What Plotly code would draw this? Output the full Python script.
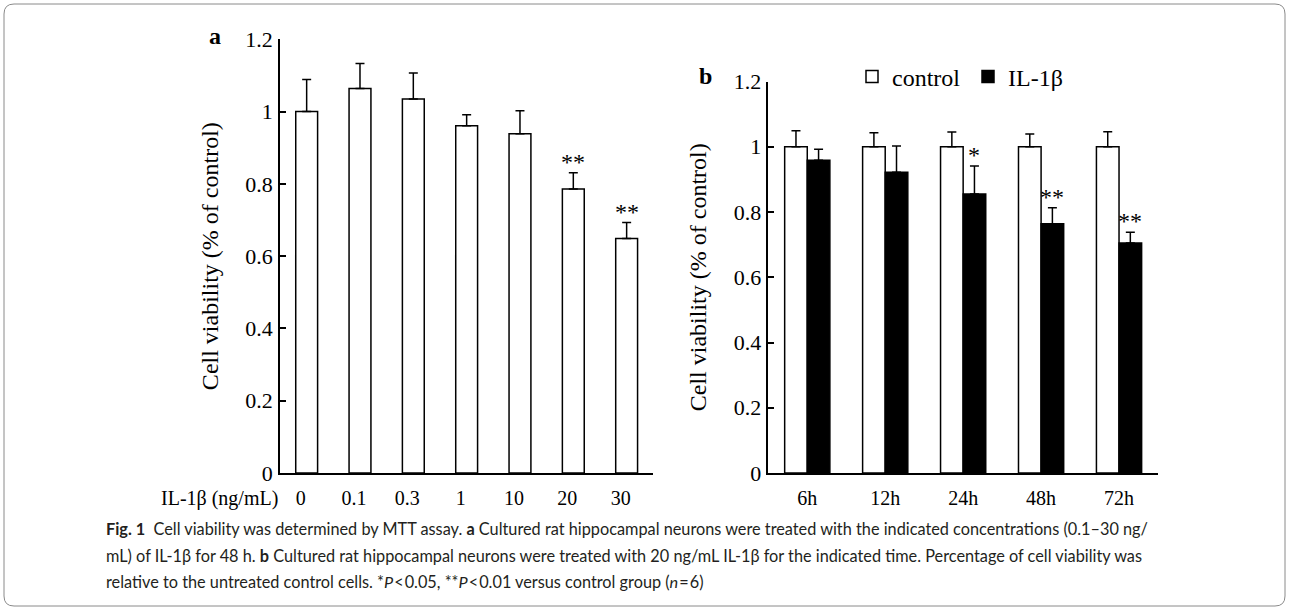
import plotly.graph_objects as go

# ---------------- data ----------------
conc_labels = ["0", "0.1", "0.3", "1", "10", "20", "30"]
conc_values = [1.000, 1.064, 1.035, 0.961, 0.939, 0.786, 0.649]
conc_err = [0.089, 0.069, 0.072, 0.030, 0.063, 0.045, 0.044]
conc_sig = ["", "", "", "", "", "**", "**"]

time_labels = ["6h", "12h", "24h", "48h", "72h"]
ctrl_values = [1.0, 1.0, 1.0, 1.0, 1.0]
ctrl_err = [0.049, 0.043, 0.045, 0.039, 0.046]
il_values = [0.959, 0.922, 0.855, 0.764, 0.705]
il_err = [0.033, 0.080, 0.086, 0.049, 0.033]
il_sig = ["", "", "*", "**", "**"]

y_tickvals = [0, 0.2, 0.4, 0.6, 0.8, 1.0, 1.2]
y_ticktext = ["0", "0.2", "0.4", "0.6", "0.8", "1", "1.2"]

W, H = 1290, 613
SERIF = "Liberation Serif, Times New Roman, serif"
SANS = "Lato, Open Sans, sans-serif"


def px(x):
    return x / W


def py(y):
    return 1 - y / H


fig = go.Figure()

bw_a = 0.41
fig.add_trace(go.Bar(
    x=conc_labels, y=conc_values, width=bw_a,
    marker=dict(color="white", line=dict(color="black", width=1.5)),
    error_y=dict(type="data", array=conc_err, arrayminus=[0] * len(conc_err),
                 symmetric=False, color="black", thickness=1.5, width=4.5),
    showlegend=False, xaxis="x", yaxis="y",
))

bw_b = 0.29
fig.add_trace(go.Bar(
    x=time_labels, y=ctrl_values, width=bw_b, offset=-bw_b, name="control",
    marker=dict(color="white", line=dict(color="black", width=1.5)),
    error_y=dict(type="data", array=ctrl_err, arrayminus=[0] * len(ctrl_err),
                 symmetric=False, color="black", thickness=1.5, width=4.5),
    xaxis="x2", yaxis="y2",
))
fig.add_trace(go.Bar(
    x=time_labels, y=il_values, width=bw_b, offset=0, name="IL-1β",
    marker=dict(color="black", line=dict(color="black", width=1.5)),
    error_y=dict(type="data", array=il_err, arrayminus=[0] * len(il_err),
                 symmetric=False, color="black", thickness=1.5, width=4.5),
    xaxis="x2", yaxis="y2",
))

annotations = []
for i, s in enumerate(conc_sig):
    if s:
        annotations.append(dict(x=i, y=conc_values[i] + conc_err[i], xref="x", yref="y",
                                text=s, showarrow=False, yanchor="bottom", yshift=-4,
                                font=dict(family=SERIF, size=24, color="black")))
for i, s in enumerate(il_sig):
    if s:
        annotations.append(dict(x=i + bw_b / 2, y=il_values[i] + il_err[i], xref="x2", yref="y2",
                                text=s, showarrow=False, yanchor="bottom", yshift=-4,
                                font=dict(family=SERIF, size=24, color="black")))

annotations += [
    dict(x=px(207), y=py(36), xref="paper", yref="paper", text="<b>a</b>", showarrow=False,
         yanchor="middle", font=dict(family=SERIF, size=24, color="black")),
    dict(x=px(706), y=py(76), xref="paper", yref="paper", text="<b>b</b>", showarrow=False,
         yanchor="middle", font=dict(family=SERIF, size=24, color="black")),
    dict(x=px(280), y=py(485), xref="paper", yref="paper", text="IL-1β (ng/mL)", showarrow=False,
         xanchor="right", yanchor="top", font=dict(family=SERIF, size=20, color="black")),
]

captions = [
    "<b>Fig. 1</b>\u00a0\u00a0Cell viability was determined by MTT assay. <b>a</b> Cultured rat hippocampal neurons were treated with the indicated concentrations (0.1–30 ng/",
    "mL) of IL-1β for 48 h. <b>b</b> Cultured rat hippocampal neurons were treated with 20 ng/mL IL-1β for the indicated time. Percentage of cell viability was",
    "relative to the untreated control cells. *<i>P</i>\u200a<\u200a0.05, **<i>P</i>\u200a<\u200a0.01 versus control group (<i>n</i>\u200a=\u200a6)",
]
for k, (cap, yy) in enumerate(zip(captions, [528, 555, 581])):
    annotations.append(dict(x=px(104), y=py(yy), xref="paper", yref="paper", text=cap,
                            showarrow=False, xanchor="left", yanchor="middle",
                            font=dict(family=SANS, size=16.3, color="#231f20")))

# rounded border
x0, x1, y0, y1, r = 4, 1285, 4, 606, 10
rx, ry = r / W, r / H
path = (f"M {px(x0)+rx},{py(y0)} L {px(x1)-rx},{py(y0)} Q {px(x1)},{py(y0)} {px(x1)},{py(y0)-ry} "
        f"L {px(x1)},{py(y1)+ry} Q {px(x1)},{py(y1)} {px(x1)-rx},{py(y1)} "
        f"L {px(x0)+rx},{py(y1)} Q {px(x0)},{py(y1)} {px(x0)},{py(y1)+ry} "
        f"L {px(x0)},{py(y0)-ry} Q {px(x0)},{py(y0)} {px(x0)+rx},{py(y0)} Z")
shapes = [dict(type="path", path=path, xref="paper", yref="paper",
               line=dict(color="#8a8a8a", width=1))]

common_y = dict(range=[0, 1.2], tickmode="array", tickvals=y_tickvals, ticktext=y_ticktext,
                ticks="inside", ticklen=6, tickwidth=1.5, tickcolor="black",
                showline=True, linecolor="black", linewidth=1.5, showgrid=False, zeroline=False,
                tickfont=dict(family=SERIF, size=22, color="black"), automargin=False,
                ticklabelstandoff=1,
                title=dict(text="Cell viability (% of control)",
                           font=dict(family=SERIF, size=24, color="black"), standoff=20))
common_x = dict(type="category", showline=True, linecolor="black", linewidth=1.5, ticks="",
                showgrid=False, zeroline=False, automargin=False,
                tickfont=dict(family=SERIF, size=20, color="black"))

fig.update_layout(
    width=W, height=H, template="none",
    margin=dict(l=0, r=0, t=0, b=0),
    paper_bgcolor="white", plot_bgcolor="white",
    barmode="overlay",
    xaxis=dict(common_x, domain=[px(280), px(653.3)], range=[-0.5, 6.5], anchor="y",
               ticklabelshift=-6, ticklabelstandoff=6),
    yaxis=dict(common_y, domain=[py(473), py(39.3)], anchor="x"),
    xaxis2=dict(common_x, domain=[px(768.3), px(1158)], range=[-0.5, 4.5], anchor="y2",
                ticklabelstandoff=6),
    yaxis2=dict(common_y, domain=[py(473), py(81.5)], anchor="x2"),
    legend=dict(orientation="h", x=px(852), y=py(77), xanchor="left", yanchor="middle",
                font=dict(family=SERIF, size=24, color="black"), bgcolor="rgba(0,0,0,0)",
                traceorder="normal", entrywidth=71, entrywidthmode="pixels"),
    annotations=annotations, shapes=shapes,
)

fig.write_html("out.html", config={"displayModeBar": False},
               post_script="document.body.style.margin='0px';")
